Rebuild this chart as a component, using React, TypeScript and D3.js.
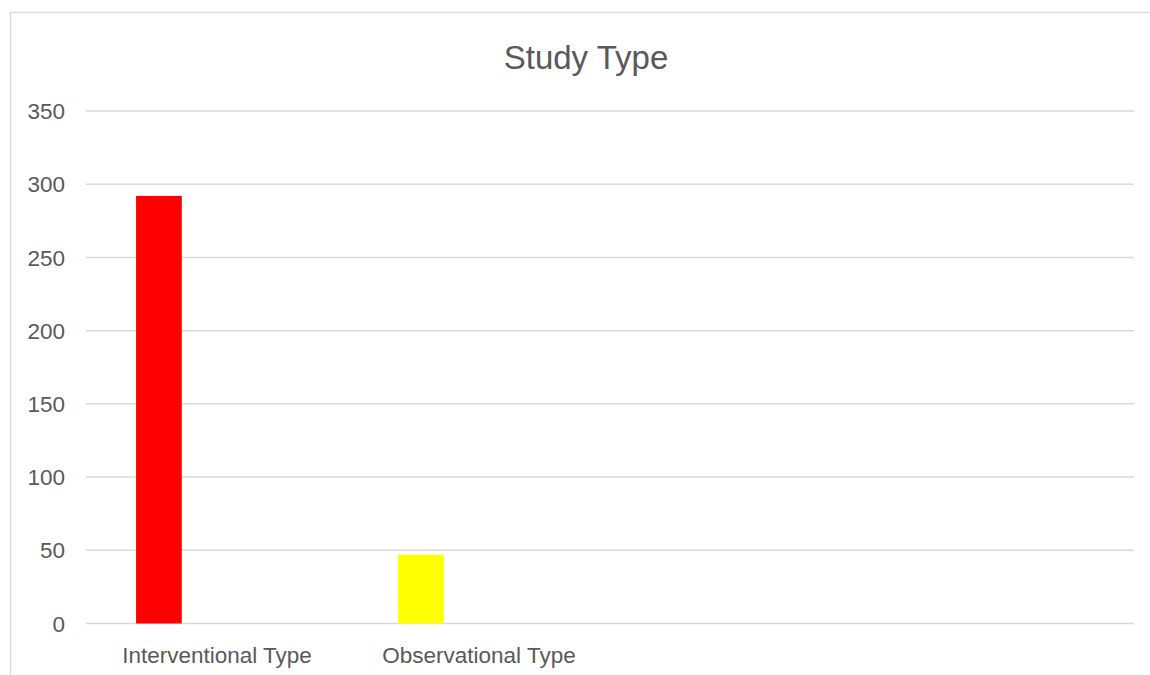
import React, { useEffect, useRef } from 'react';
import * as d3 from 'd3';

const categories = ['Interventional Type', 'Observational Type', '', ''];
const seriesKeys = ['s1', 's2', 's3'];
const seriesValues: (number | null)[][] = [
  [292, 47, null, null],
  [null, null, null, null],
  [null, null, null, null],
];
const pointColors = ['#ff0000', '#ffff00'];
const yTicks = [0, 50, 100, 150, 200, 250, 300, 350];

const App: React.FC = () => {
  const svgRef = useRef<SVGSVGElement>(null);

  useEffect(() => {
    if (!svgRef.current) return;
    const width = 1150;
    const height = 675;
    const plot = { left: 86, right: 1134, top: 111, bottom: 623.5 };
    const font = "'Liberation Sans', Arial, sans-serif";
    const textColor = '#595959';

    const svg = d3.select(svgRef.current)
      .attr('width', width)
      .attr('height', height)
      .html('');

    // chart area border
    svg.append('rect')
      .attr('x', 10.5)
      .attr('y', 12.5)
      .attr('width', 1160)
      .attr('height', 700)
      .attr('fill', '#fff')
      .attr('stroke', '#d9d9d9')
      .attr('stroke-width', 1.3);

    const x0 = d3.scaleBand<string>()
      .domain(categories.map((_, i) => String(i)))
      .range([plot.left, plot.right]);

    // Excel-like clustered layout: gap width 219%, overlap -27%
    const bw = x0.bandwidth();
    const barW = bw / (seriesKeys.length + (seriesKeys.length - 1) * 0.27 + 2.19);
    const x1 = d3.scaleBand<string>()
      .domain(seriesKeys)
      .range([barW * 2.19 / 2, bw - barW * 2.19 / 2])
      .paddingInner(1 - 1 / 1.27);

    const y = d3.scaleLinear().domain([0, 350]).range([plot.bottom, plot.top]);

    // gridlines
    svg.append('g')
      .selectAll('line')
      .data(yTicks)
      .join('line')
      .attr('x1', plot.left)
      .attr('x2', plot.right)
      .attr('y1', d => y(d))
      .attr('y2', d => y(d))
      .attr('stroke', '#d9d9d9')
      .attr('stroke-width', 1.5);

    // y tick labels
    svg.append('g')
      .selectAll('text')
      .data(yTicks)
      .join('text')
      .attr('x', 65)
      .attr('y', d => y(d))
      .attr('dy', '0.36em')
      .attr('text-anchor', 'end')
      .attr('fill', textColor)
      .attr('font-family', font)
      .attr('font-size', 22.5)
      .text(d => d);

    // bars
    seriesValues.forEach((vals, si) => {
      svg.append('g')
        .selectAll('rect')
        .data(vals.map((v, ci) => ({ v, ci })).filter(d => d.v !== null))
        .join('rect')
        .attr('x', d => (x0(String(d.ci)) as number) + (x1(seriesKeys[si]) as number))
        .attr('width', x1.bandwidth())
        .attr('y', d => y(d.v as number))
        .attr('height', d => y(0) - y(d.v as number))
        .attr('fill', d => pointColors[d.ci]);
    });

    // category labels
    svg.append('g')
      .selectAll('text')
      .data(categories)
      .join('text')
      .attr('x', (_, i) => (x0(String(i)) as number) + bw / 2)
      .attr('y', 663)
      .attr('text-anchor', 'middle')
      .attr('fill', textColor)
      .attr('font-family', font)
      .attr('font-size', 22.5)
      .text(d => d);

    // title
    svg.append('text')
      .attr('x', 586)
      .attr('y', 69)
      .attr('text-anchor', 'middle')
      .attr('fill', textColor)
      .attr('font-family', font)
      .attr('font-size', 33)
      .text('Study Type');
  }, []);

  return (
    <div style={{ position: 'absolute', left: 0, top: 0 }}>
      <svg ref={svgRef} style={{ display: 'block' }} />
    </div>
  );
};

export default App;
